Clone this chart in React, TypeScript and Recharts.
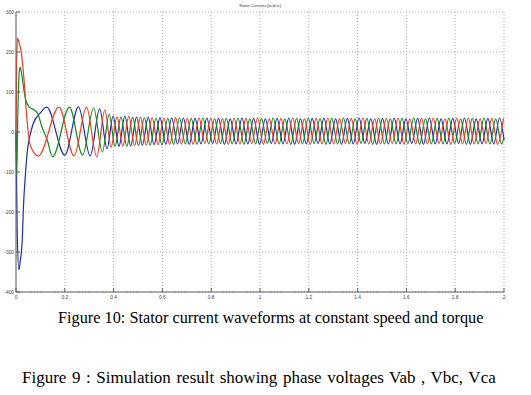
// Stator currents [ia, ib, ic] – scope plot of a start-up transient.
// Turning points, t in ms.

import { LineChart, Line, XAxis, YAxis, CartesianGrid } from "recharts";

const X_TICKS = [0, 200, 400, 600, 800, 1000, 1200, 1400, 1600, 1800, 2000];
const Y_TICKS = [-400, -300, -200, -100, 0, 100, 200, 300];

// ia (blue)
const IA_T = [
  0, 5, 12, 18, 26, 30, 40, 47, 55, 70, 99, 126, 200, 256, 304, 343, 373, 398,
  422, 446, 470, 494, 518, 542, 566, 590, 614, 638,
  662, 686, 710, 734, 758, 782, 806, 830, 854, 878,
  902, 926, 950, 974, 998, 1022, 1046, 1070, 1094, 1118,
  1142, 1166, 1190, 1214, 1238, 1262, 1286, 1310, 1334, 1358,
  1382, 1406, 1430, 1454, 1478, 1502, 1526, 1550, 1574, 1598,
  1622, 1646, 1670, 1694, 1718, 1742, 1766, 1790, 1814, 1838,
  1862, 1886, 1910, 1934, 1958, 1982, 2000,
];
const IA_V = [
  0, -250, -345, -320, -265, -195, -95, -45, -15, 20, 47, 62, -58, 63, -60, 58, -42, 40,
  -36, 40, -35, 38, -33, 37, -32, 36, -31, 35,
  -30, 35, -31, 34, -30, 35, -29, 34, -31, 33,
  -30, 35, -30, 34, -31, 33, -29, 34, -30, 35,
  -31, 33, -30, 34, -29, 35, -30, 33, -31, 34,
  -30, 35, -29, 33, -31, 34, -30, 35, -30, 33,
  -29, 34, -31, 35, -30, 33, -30, 34, -29, 35,
  -31, 33, -30, 34, -30, 35, -20,
];

// ib (green)
const IB_T = [
  0, 3, 8, 14, 17, 22, 30, 40, 55, 75, 90, 106, 128, 150, 219, 273, 318, 354, 382, 406,
  430, 454, 478, 502, 526, 550, 574, 598, 622, 646,
  670, 694, 718, 742, 766, 790, 814, 838, 862, 886,
  910, 934, 958, 982, 1006, 1030, 1054, 1078, 1102, 1126,
  1150, 1174, 1198, 1222, 1246, 1270, 1294, 1318, 1342, 1366,
  1390, 1414, 1438, 1462, 1486, 1510, 1534, 1558, 1582, 1606,
  1630, 1654, 1678, 1702, 1726, 1750, 1774, 1798, 1822, 1846,
  1870, 1894, 1918, 1942, 1966, 1990, 2000,
];
const IB_V = [
  0, -110, 60, 155, 162, 150, 115, 80, 62, 55, 45, 13, -20, -62, 62, -58, 60, -50, 44, -36,
  38, -36, 37, -34, 36, -33, 35, -32, 34, -31,
  35, -30, 34, -31, 35, -30, 33, -29, 34, -30,
  35, -31, 33, -30, 34, -29, 35, -30, 33, -31,
  34, -30, 35, -29, 33, -31, 34, -30, 35, -30,
  33, -29, 34, -31, 35, -30, 33, -30, 34, -29,
  35, -31, 33, -30, 34, -30, 35, -29, 33, -31,
  34, -30, 35, -30, 33, -30, -12,
];

// ic (red)
const IC_T = [
  0, 3, 6, 9, 22, 33, 44, 54, 67, 92, 176, 238, 289, 331, 364, 390, 414,
  438, 462, 486, 510, 534, 558, 582, 606, 630, 654,
  678, 702, 726, 750, 774, 798, 822, 846, 870, 894,
  918, 942, 966, 990, 1014, 1038, 1062, 1086, 1110, 1134,
  1158, 1182, 1206, 1230, 1254, 1278, 1302, 1326, 1350, 1374,
  1398, 1422, 1446, 1470, 1494, 1518, 1542, 1566, 1590, 1614,
  1638, 1662, 1686, 1710, 1734, 1758, 1782, 1806, 1830, 1854,
  1878, 1902, 1926, 1950, 1974, 1998,
];
const IC_V = [
  0, 180, 235, 230, 197, 130, 38, -20, -45, -60, 62, -60, 62, -62, 55, -38, 38,
  -35, 39, -34, 37, -33, 36, -32, 35, -31, 36,
  -30, 34, -31, 35, -29, 34, -30, 33, -31, 35,
  -30, 34, -29, 35, -31, 33, -30, 34, -30, 35,
  -29, 33, -31, 34, -30, 35, -30, 33, -29, 34,
  -31, 35, -30, 33, -30, 34, -29, 35, -31, 33,
  -30, 34, -30, 35, -29, 33, -31, 34, -30, 35,
  -30, 33, -29, 34, -31, 34,
];

const toPts = (ts: number[], vs: number[]) => ts.map((t, i) => ({ t, v: vs[i] }));

const FRAME = "#5c625c";
const LABEL = "#3a3a3a";
const tickFont = { fontSize: 4.8, fontFamily: "Arial, 'Liberation Sans', sans-serif", fill: LABEL };

const fmtX = (v: number) => String(v / 1000);

// matlab-style ticks: marks point into the axes
function BottomTick(p: any) {
  return (
    <g>
      <line x1={p.x} y1={p.y} x2={p.x} y2={p.y - 4} stroke={FRAME} />
      <text x={p.x} y={p.y + 7} textAnchor="middle" {...tickFont}>
        {fmtX(p.payload.value)}
      </text>
    </g>
  );
}
function TopTick(p: any) {
  return <line x1={p.x} y1={p.y} x2={p.x} y2={p.y + 4} stroke={FRAME} />;
}
function LeftTick(p: any) {
  return (
    <g>
      <line x1={p.x} y1={p.y} x2={p.x + 4} y2={p.y} stroke={FRAME} />
      <text x={p.x - 2} y={p.y + 1.8} textAnchor="end" {...tickFont}>
        {p.payload.value}
      </text>
    </g>
  );
}
function RightTick(p: any) {
  return <line x1={p.x} y1={p.y} x2={p.x - 4} y2={p.y} stroke={FRAME} />;
}

const captionStyle = {
  position: "absolute" as const,
  fontFamily: "'Liberation Serif', 'Times New Roman', serif",
  lineHeight: "16px",
  color: "#000",
  whiteSpace: "nowrap" as const,
};

export default function App() {
  const ia = toPts(IA_T, IA_V);
  const ib = toPts(IB_T, IB_V);
  const ic = toPts(IC_T, IC_V);

  return (
    <div
      style={{
        position: "absolute",
        left: 0,
        top: 0,
        width: 531,
        height: 395,
        background: "#fff",
        overflow: "hidden",
      }}
    >
      <div
        style={{
          position: "absolute",
          left: 0,
          width: 520,
          top: 3,
          textAlign: "center",
          fontSize: 4,
          lineHeight: "5px",
          fontFamily: "Arial, 'Liberation Sans', sans-serif",
          color: "#333",
        }}
      >
        Stator Currents [ia,ib,ic]
      </div>
      <div style={{ position: "absolute", left: 0, top: 0 }}>
        <LineChart width={531} height={304} margin={{ top: 12, right: 27, bottom: 0, left: 0 }}>
          <CartesianGrid
            stroke="#a9a9a9"
            strokeDasharray="1 2"
            horizontalValues={Y_TICKS}
            verticalValues={X_TICKS}
          />
          <XAxis
            dataKey="t"
            type="number"
            domain={[0, 2000]}
            ticks={X_TICKS}
            interval={0}
            height={12}
            tickSize={0}
            tickMargin={0}
            tick={(p: any) => <BottomTick {...p} />}
            axisLine={{ stroke: FRAME }}
          />
          <XAxis
            xAxisId="top"
            orientation="top"
            dataKey="t"
            type="number"
            domain={[0, 2000]}
            ticks={X_TICKS}
            interval={0}
            height={0}
            tickSize={0}
            tickMargin={0}
            tick={(p: any) => <TopTick {...p} />}
            axisLine={{ stroke: FRAME }}
          />
          <YAxis
            type="number"
            domain={[-400, 300]}
            ticks={Y_TICKS}
            interval={0}
            width={16}
            tickSize={0}
            tickMargin={0}
            tick={(p: any) => <LeftTick {...p} />}
            axisLine={{ stroke: FRAME }}
          />
          <YAxis
            yAxisId="right"
            orientation="right"
            type="number"
            domain={[-400, 300]}
            ticks={Y_TICKS}
            interval={0}
            width={0}
            tickSize={0}
            tickMargin={0}
            tick={(p: any) => <RightTick {...p} />}
            axisLine={{ stroke: FRAME }}
          />
          <Line data={ia} dataKey="v" type="monotone" stroke="#1f2fa6" strokeWidth={1.2} dot={false} isAnimationActive={false} />
          <Line data={ib} dataKey="v" type="monotone" stroke="#17881c" strokeWidth={1.2} dot={false} isAnimationActive={false} />
          <Line data={ic} dataKey="v" type="monotone" stroke="#ee3b22" strokeWidth={1.2} dot={false} isAnimationActive={false} />
        </LineChart>
      </div>
      <div style={{ ...captionStyle, left: 58, top: 310, fontSize: 16.3 }}>
        Figure 10: Stator current waveforms at constant speed and torque
      </div>
      <div style={{ ...captionStyle, left: 22, top: 370, fontSize: 17, wordSpacing: 1.3 }}>
        Figure 9 : Simulation result showing phase voltages Vab , Vbc, Vca
      </div>
    </div>
  );
}
